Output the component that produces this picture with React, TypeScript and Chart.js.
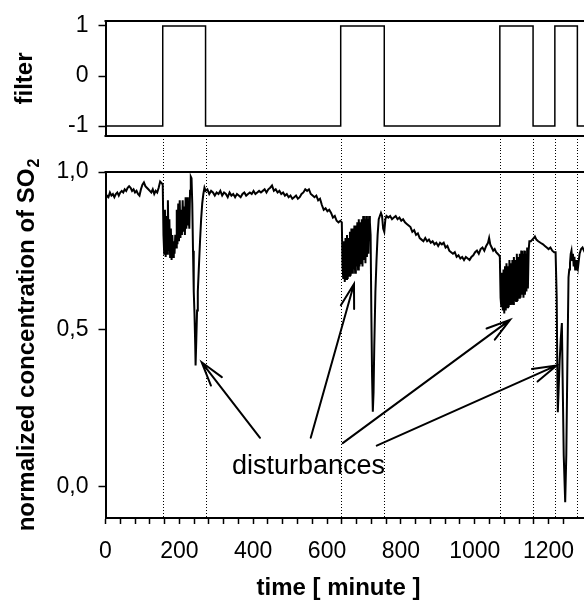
import React, { useEffect, useRef } from 'react';
import { Chart, registerables } from 'chart.js';
Chart.register(...registerables);

// ---------- data ----------
const filterTimes = [0, 155, 271, 637, 755, 1068, 1158, 1217, 1278, 1300];
const filterValues = [-1, 1, -1, 1, -1, 1, -1, 1, -1, -1];
const switchTimes = [155, 271, 637, 755, 1068, 1158, 1217, 1278];

const so2Times = [
  0, 4, 8, 12, 16, 20, 24, 28, 32, 36, 40, 44, 48, 52, 56, 60, 64, 68, 72, 76, 80, 84, 88, 92, 96, 100, 104, 108, 112, 116, 120, 124, 128, 132, 136, 140, 144, 148, 152,
  155, 157, 159, 161, 163, 165, 167, 169, 171, 173, 175, 177, 179, 181, 183, 185, 187, 189, 191, 193, 195, 197, 199, 201, 203, 205, 207, 209, 211, 213, 215, 217, 219, 221, 223, 225, 227, 229, 231, 233, 235, 237, 239, 241, 243, 244, 246, 248, 250, 253, 256, 259, 262, 265, 268,
  271, 276, 281, 286, 291, 296, 301, 306, 311, 316, 321, 326, 331, 336, 341, 346, 351, 356, 361, 366, 371, 376, 381, 386, 391, 396, 401, 406, 411, 416, 421, 426, 431, 436, 441, 446, 451, 456, 461, 466, 471, 476, 481, 486, 491, 496, 501, 506, 511, 516, 521, 526, 531, 536, 541, 546, 551, 556, 561, 566, 571, 576, 581, 586, 591, 596, 601, 606, 611, 616, 621, 626, 631, 636,
  640, 642, 644, 646, 648, 650, 652, 654, 656, 658, 660, 662, 664, 666, 668, 670, 672, 674, 676, 678, 680, 682, 684, 686, 688, 690, 692, 694, 696, 698, 700, 702, 704, 706, 708, 710, 712, 714, 716, 718, 720, 722, 724, 726, 728, 731, 734, 737, 740, 743, 746, 749, 752, 755, 758, 761,
  766, 771, 776, 781, 786, 791, 796, 801, 806, 811, 816, 821, 826, 831, 836, 841, 846, 851, 856, 861, 866, 871, 876, 881, 886, 891, 896, 901, 906, 911, 916, 921, 926, 931, 936, 941, 946, 951, 956, 961, 966, 971, 976, 981, 986, 991, 996, 1001, 1006, 1011, 1016, 1021, 1026, 1031, 1036, 1039, 1042, 1046, 1050, 1054, 1058, 1062, 1066,
  1068, 1070, 1072, 1074, 1076, 1078, 1080, 1082, 1084, 1086, 1088, 1090, 1092, 1094, 1096, 1098, 1100, 1102, 1104, 1106, 1108, 1110, 1112, 1114, 1116, 1118, 1120, 1122, 1124, 1126, 1128, 1130, 1132, 1134, 1136, 1138, 1140, 1142, 1144, 1146,
  1148, 1152, 1156, 1160, 1163, 1167, 1172, 1178, 1185, 1190, 1195, 1200, 1205, 1210, 1215, 1219,
  1220, 1222, 1224, 1225, 1227, 1230, 1233, 1236, 1238, 1241, 1245, 1248, 1251, 1254, 1256, 1258, 1260, 1262, 1264, 1266, 1268, 1270, 1272, 1274, 1276, 1278, 1280, 1284, 1288, 1292, 1296, 1300,
];
const so2Values = [
  0.91, 0.925, 0.92, 0.935, 0.925, 0.93, 0.92, 0.93, 0.935, 0.925, 0.935, 0.94, 0.935, 0.945, 0.94, 0.95, 0.955, 0.95, 0.94, 0.945, 0.935, 0.94, 0.93, 0.925, 0.945, 0.96, 0.967, 0.955, 0.95, 0.945, 0.94, 0.935, 0.945, 0.93, 0.94, 0.935, 0.95, 0.97, 0.965,
  0.96, 0.80, 0.74, 0.88, 0.73, 0.86, 0.74, 0.91, 0.75, 0.85, 0.73, 0.82, 0.72, 0.80, 0.73, 0.78, 0.74, 0.80, 0.76, 0.88, 0.77, 0.90, 0.78, 0.91, 0.79, 0.88, 0.80, 0.91, 0.81, 0.89, 0.80, 0.92, 0.82, 0.92, 0.83, 0.88, 0.82, 0.94, 0.985, 0.98, 0.90, 0.75, 0.62, 0.55, 0.45, 0.385, 0.47, 0.56, 0.62, 0.70, 0.78, 0.85, 0.90, 0.93, 0.95,
  0.94, 0.945, 0.93, 0.94, 0.935, 0.925, 0.935, 0.93, 0.94, 0.925, 0.935, 0.93, 0.92, 0.935, 0.925, 0.93, 0.92, 0.93, 0.925, 0.92, 0.93, 0.935, 0.925, 0.93, 0.935, 0.93, 0.94, 0.93, 0.935, 0.94, 0.935, 0.94, 0.945, 0.935, 0.945, 0.95, 0.957, 0.94, 0.945, 0.935, 0.94, 0.93, 0.935, 0.925, 0.93, 0.92, 0.925, 0.915, 0.92, 0.925, 0.915, 0.92, 0.93, 0.935, 0.945, 0.94, 0.945, 0.93, 0.925, 0.92, 0.925, 0.91, 0.915, 0.895, 0.88, 0.885, 0.875, 0.88, 0.87, 0.855, 0.86, 0.845, 0.84, 0.845,
  0.84, 0.70, 0.66, 0.78, 0.65, 0.79, 0.66, 0.80, 0.66, 0.79, 0.67, 0.81, 0.67, 0.82, 0.68, 0.82, 0.69, 0.83, 0.68, 0.83, 0.70, 0.84, 0.69, 0.85, 0.70, 0.84, 0.71, 0.85, 0.70, 0.86, 0.72, 0.85, 0.71, 0.86, 0.73, 0.85, 0.74, 0.86, 0.84, 0.80, 0.55, 0.35, 0.238, 0.30, 0.45, 0.62, 0.72, 0.80, 0.85, 0.86, 0.87, 0.86, 0.82, 0.81, 0.85, 0.86,
  0.855, 0.86, 0.85, 0.855, 0.86, 0.85, 0.855, 0.845, 0.85, 0.84, 0.835, 0.83, 0.825, 0.81, 0.815, 0.80, 0.805, 0.79, 0.785, 0.78, 0.79, 0.78, 0.785, 0.775, 0.78, 0.77, 0.775, 0.765, 0.775, 0.77, 0.775, 0.76, 0.765, 0.75, 0.745, 0.74, 0.745, 0.73, 0.735, 0.725, 0.73, 0.72, 0.73, 0.725, 0.72, 0.73, 0.735, 0.745, 0.75, 0.74, 0.755, 0.76, 0.75, 0.765, 0.775, 0.79, 0.77, 0.76, 0.75, 0.755, 0.745, 0.74, 0.735,
  0.73, 0.60, 0.57, 0.68, 0.56, 0.69, 0.55, 0.70, 0.56, 0.71, 0.57, 0.70, 0.57, 0.72, 0.58, 0.71, 0.58, 0.72, 0.58, 0.73, 0.59, 0.72, 0.59, 0.74, 0.59, 0.73, 0.60, 0.74, 0.60, 0.75, 0.61, 0.74, 0.60, 0.75, 0.61, 0.74, 0.62, 0.76, 0.63, 0.75,
  0.78, 0.78, 0.785, 0.79, 0.795, 0.785, 0.78, 0.775, 0.77, 0.765, 0.76, 0.755, 0.76, 0.75, 0.745, 0.745,
  0.745, 0.60, 0.32, 0.236, 0.30, 0.40, 0.47, 0.52, 0.35, 0.10, -0.05, 0.10, 0.40, 0.665, 0.69, 0.71, 0.74, 0.75, 0.72, 0.74, 0.70, 0.73, 0.69, 0.72, 0.687, 0.72, 0.70, 0.74, 0.755, 0.76, 0.75, 0.76,
];

const xTickValues = [0, 200, 400, 600, 800, 1000, 1200];
const xMinorStep = 40;
const filterTickValues = [-1, 0, 1];
const filterTickLabels = ['-1', '0', '1'];
const so2TickValues = [0, 0.5, 1];
const so2TickLabels = ['0,0', '0,5', '1,0'];

const annotationText = 'disturbances';
const annotationAt = [550, 0.041];
const arrowTails = [[418.5, 0.155], [555.8, 0.155], [642.5, 0.138], [734.6, 0.13]];
const arrowHeads = [[260.6, 0.395], [673, 0.644], [1095.6, 0.53], [1222, 0.385]];

// ---------- style ----------
const FONT = "'Liberation Sans', Arial, Helvetica, sans-serif";
const TICK_FONT = { family: FONT, size: 23 };
const CANVAS_W = 590;
const TOP_H = 150;
const BOT_H = 454;
const AXIS_W = 105.5;
const RIGHT_PAD = CANVAS_W - 585.5;

function yAxisCommon(tickValues: number[], tickLabels: string[], min: number, max: number) {
  return {
    type: 'linear',
    min,
    max,
    afterFit: (s: any) => {
      s.width = AXIS_W;
      s.paddingTop = 0;
      s.paddingBottom = 0;
    },
    afterBuildTicks: (s: any) => { s.ticks = tickValues.map((v) => ({ value: v })); },
    ticks: {
      color: '#000',
      font: TICK_FONT,
      padding: 10,
      callback: (v: any) => tickLabels[tickValues.indexOf(Number(v))] ?? '',
    },
    grid: { display: true, drawOnChartArea: false, drawTicks: true, tickLength: 7, tickColor: '#000', tickWidth: 1.5 },
    border: { display: true, color: '#000', width: 2 },
  };
}

function drawDotted(ctx: CanvasRenderingContext2D, chart: any, y0: number, y1: number) {
  ctx.save();
  ctx.strokeStyle = '#000';
  ctx.lineWidth = 1;
  ctx.setLineDash([1, 2]);
  switchTimes.forEach((t) => {
    const px = Math.round(chart.scales.x.getPixelForValue(t)) + 0.5;
    ctx.beginPath();
    ctx.moveTo(px, y0);
    ctx.lineTo(px, y1);
    ctx.stroke();
  });
  ctx.restore();
}

function rotatedTitle(ctx: CanvasRenderingContext2D, main: string, sub: string, baseX: number, centerY: number) {
  ctx.save();
  ctx.fillStyle = '#000';
  ctx.textBaseline = 'alphabetic';
  ctx.textAlign = 'left';
  const mainFont = `bold 24px ${FONT}`;
  const subFont = `bold 16px ${FONT}`;
  ctx.font = mainFont;
  const wMain = ctx.measureText(main).width;
  ctx.font = subFont;
  const wSub = sub ? ctx.measureText(sub).width + 1 : 0;
  const total = wMain + wSub;
  ctx.translate(baseX, centerY + total / 2);
  ctx.rotate(-Math.PI / 2);
  ctx.font = mainFont;
  ctx.fillText(main, 0, 0);
  if (sub) {
    ctx.font = subFont;
    ctx.fillText(sub, wMain + 1, 5);
  }
  ctx.restore();
}

const topDecor = {
  id: 'topDecor',
  beforeDatasetsDraw(chart: any) {
    const { ctx, chartArea } = chart;
    drawDotted(ctx, chart, chartArea.bottom, chart.height);
  },
  afterDraw(chart: any) {
    const { ctx, chartArea } = chart;
    ctx.save();
    ctx.strokeStyle = '#000';
    ctx.lineWidth = 2;
    ctx.beginPath();
    ctx.moveTo(chartArea.left - 1, chartArea.top);
    ctx.lineTo(chartArea.right, chartArea.top);
    ctx.moveTo(chartArea.left - 1, chartArea.bottom);
    ctx.lineTo(chartArea.right, chartArea.bottom);
    ctx.stroke();
    ctx.restore();
    rotatedTitle(ctx, 'filter', '', 32, (chartArea.top + chartArea.bottom) / 2);
  },
};

const bottomDecor = {
  id: 'bottomDecor',
  beforeDatasetsDraw(chart: any) {
    const { ctx, chartArea } = chart;
    drawDotted(ctx, chart, 0, chartArea.bottom);
  },
  afterDraw(chart: any) {
    const { ctx, chartArea, scales } = chart;
    const xs = scales.x;
    const ys = scales.y;
    ctx.save();
    ctx.strokeStyle = '#000';
    ctx.lineWidth = 2;
    ctx.beginPath();
    ctx.moveTo(chartArea.left - 1, chartArea.top);
    ctx.lineTo(chartArea.right, chartArea.top);
    ctx.stroke();

    // arrows
    ctx.lineWidth = 2;
    ctx.lineCap = 'round';
    arrowTails.forEach((tail, i) => {
      const head = arrowHeads[i];
      const x0 = xs.getPixelForValue(tail[0]);
      const y0 = ys.getPixelForValue(tail[1]);
      const x1 = xs.getPixelForValue(head[0]);
      const y1 = ys.getPixelForValue(head[1]);
      const ang = Math.atan2(y0 - y1, x0 - x1);
      const L = 25;
      const a = (16 * Math.PI) / 180;
      ctx.beginPath();
      ctx.moveTo(x0, y0);
      ctx.lineTo(x1, y1);
      ctx.moveTo(x1 + L * Math.cos(ang + a), y1 + L * Math.sin(ang + a));
      ctx.lineTo(x1, y1);
      ctx.lineTo(x1 + L * Math.cos(ang - a), y1 + L * Math.sin(ang - a));
      ctx.stroke();
    });

    // annotation text
    ctx.fillStyle = '#000';
    ctx.font = `27px ${FONT}`;
    ctx.textAlign = 'center';
    ctx.textBaseline = 'alphabetic';
    ctx.fillText(annotationText, xs.getPixelForValue(annotationAt[0]), ys.getPixelForValue(annotationAt[1]));

    // x title
    ctx.font = `bold 24px ${FONT}`;
    ctx.fillText('time [ minute ]', 338.5, 445);
    ctx.restore();

    rotatedTitle(ctx, 'normalized concentration of SO', '2', 34, (chartArea.top + chartArea.bottom) / 2);
  },
};

export default function App() {
  const topRef = useRef<HTMLCanvasElement>(null);
  const botRef = useRef<HTMLCanvasElement>(null);

  useEffect(() => {
    const topChart = new Chart(topRef.current as HTMLCanvasElement, {
      type: 'line',
      data: {
        datasets: [
          {
            data: filterTimes.map((t, i) => ({ x: t, y: filterValues[i] })),
            borderColor: '#000',
            borderWidth: 1.5,
            pointRadius: 0,
            stepped: 'before',
            fill: false,
          },
        ],
      },
      options: {
        animation: false,
        responsive: false,
        events: [],
        layout: { padding: { top: 21, bottom: TOP_H - 136, left: 0, right: RIGHT_PAD } },
        plugins: { legend: { display: false }, tooltip: { enabled: false } },
        scales: {
          x: { type: 'linear', min: 0, max: 1300, display: false },
          y: yAxisCommon(filterTickValues, filterTickLabels, -1.2, 1.1) as any,
        },
      },
      plugins: [topDecor],
    });

    const botChart = new Chart(botRef.current as HTMLCanvasElement, {
      type: 'line',
      data: {
        datasets: [
          {
            data: so2Times.map((t, i) => ({ x: t, y: so2Values[i] })),
            borderColor: '#000',
            borderWidth: 2,
            pointRadius: 0,
            tension: 0,
            fill: false,
          },
        ],
      },
      options: {
        animation: false,
        responsive: false,
        events: [],
        layout: { padding: { top: 22, bottom: 0, left: 0, right: RIGHT_PAD } },
        plugins: { legend: { display: false }, tooltip: { enabled: false } },
        scales: {
          x: {
            type: 'linear',
            min: 0,
            max: 1300,
            afterFit: (s: any) => { s.height = 86; },
            afterBuildTicks: (s: any) => {
              s.ticks = s.ticks.filter((t: any) => t.value % xMinorStep === 0 && t.value < 1300);
            },
            ticks: {
              stepSize: xMinorStep,
              autoSkip: false,
              maxRotation: 0,
              color: '#000',
              font: TICK_FONT,
              padding: 14,
              callback: (v: any) => (xTickValues.includes(Number(v)) ? String(v) : ''),
            },
            grid: { display: true, drawOnChartArea: false, drawTicks: true, tickLength: 6, tickColor: '#000', tickWidth: 1.5 },
            border: { display: true, color: '#000', width: 2 },
          } as any,
          y: yAxisCommon(so2TickValues, so2TickLabels, -0.1, 1.0) as any,
        },
      },
      plugins: [bottomDecor],
    });

    return () => {
      topChart.destroy();
      botChart.destroy();
    };
  }, []);

  return (
    <div style={{ position: 'fixed', left: 0, top: 0, width: 584, height: 604, overflow: 'hidden', background: '#fff' }}>
      <canvas ref={topRef} width={CANVAS_W} height={TOP_H} style={{ position: 'absolute', left: 0, top: 0 }} />
      <canvas ref={botRef} width={CANVAS_W} height={BOT_H} style={{ position: 'absolute', left: 0, top: TOP_H }} />
    </div>
  );
}
